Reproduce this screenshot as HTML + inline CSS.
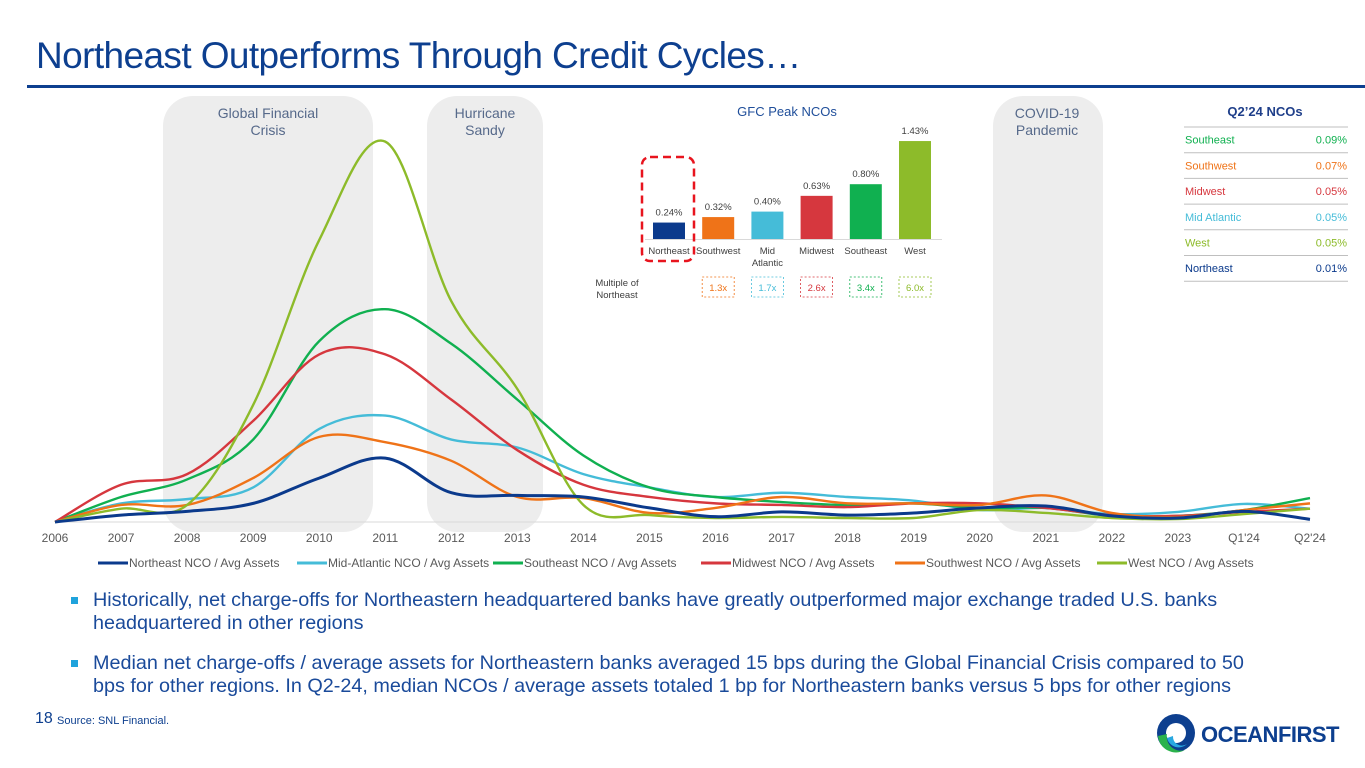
<!DOCTYPE html>
<html><head><meta charset="utf-8">
<style>
body{margin:0;width:1365px;height:768px;background:#fff;overflow:hidden;position:relative;font-family:"Liberation Sans",sans-serif}
.abs{position:absolute}
#title{left:36px;top:35px;font-size:37px;color:#0d3f8f;letter-spacing:-0.6px;white-space:nowrap}
#rule{left:27px;top:85px;width:1338px;height:3px;background:#0d3f8f}
.bul{left:74px;font-size:19.8px;color:#1a4a9a;line-height:23px;width:1182px}
.bul:before{content:"";position:absolute;left:-3px;top:8px;width:7px;height:7px;background:#1fa3dc}
.bul span{display:block;padding-left:19px}
</style></head><body>
<div class="abs" id="title">Northeast Outperforms Through Credit Cycles…</div>
<div class="abs" id="rule"></div>

<svg class="abs" style="left:0;top:0" width="1365" height="768">
 <g id="bands"></g>
 <g id="axis"></g>
 <g id="lines"></g>
 <g id="legend"></g>
 <g id="inset"></g>
 <g id="table"></g>
</svg>

<div class="abs bul" style="top:589px"><span>Historically, net charge-offs for Northeastern headquartered banks have greatly outperformed major exchange traded U.S. banks headquartered in other regions</span></div>
<div class="abs bul" style="top:652px"><span>Median net charge-offs / average assets for Northeastern banks averaged 15 bps during the Global Financial Crisis compared to 50 bps for other regions. In Q2-24, median NCOs / average assets totaled 1 bp for Northeastern banks versus 5 bps for other regions</span></div>
<div class="abs" style="left:35px;top:710px;font-size:16px;color:#0d3f8f">18</div>
<div class="abs" style="left:57px;top:715px;font-size:11px;color:#0d3f8f">Source: SNL Financial.</div>
<svg class="abs" style="left:1155px;top:712px" width="190" height="42">
 <circle cx="21" cy="21" r="19" fill="#0d3f8f"/>
 <circle cx="21" cy="21" r="10" fill="#fff"/>
 <path d="M3,24 A18,18 0 0 0 30,38 A14,14 0 0 1 12,22 Z" fill="#2bb24c"/>
 <path d="M12,26 A12,12 0 0 0 32,32 A9,9 0 0 1 18,24 Z" fill="#29a8e0"/>
 <text x="46" y="30" font-family="Liberation Sans" font-weight="bold" font-size="22" fill="#0d3f8f" letter-spacing="-0.5">OCEANFIRST</text>
</svg>

<script>
const categories=["2006","2007","2008","2009","2010","2011","2012","2013","2014","2015","2016","2017","2018","2019","2020","2021","2022","2023","Q1'24","Q2'24"];
const seriesNames=["Northeast NCO / Avg Assets","Mid-Atlantic NCO / Avg Assets","Southeast NCO / Avg Assets","Midwest NCO / Avg Assets","Southwest NCO / Avg Assets","West NCO / Avg Assets"];
const seriesColors=["#0b3a8c","#45bcd8","#10b050","#d6373e","#ef7318","#8dbb2a"];
const northeast=[0,0.026,0.04,0.07,0.165,0.24,0.11,0.10,0.094,0.053,0.02,0.038,0.026,0.034,0.053,0.06,0.023,0.015,0.04,0.01];
const midAtlantic=[0,0.07,0.086,0.13,0.35,0.40,0.31,0.28,0.18,0.13,0.094,0.11,0.094,0.08,0.045,0.053,0.03,0.038,0.068,0.05];
const southeast=[0,0.094,0.16,0.31,0.68,0.80,0.67,0.46,0.25,0.13,0.094,0.075,0.064,0.07,0.053,0.053,0.023,0.023,0.045,0.09];
const midwest=[0,0.14,0.18,0.38,0.63,0.63,0.46,0.27,0.14,0.094,0.07,0.064,0.056,0.07,0.07,0.053,0.026,0.023,0.038,0.05];
const southwest=[0,0.064,0.064,0.165,0.32,0.30,0.23,0.094,0.09,0.034,0.053,0.094,0.07,0.07,0.064,0.10,0.034,0.019,0.045,0.07];
const west=[0,0.05,0.064,0.44,1.06,1.43,0.83,0.50,0.064,0.026,0.015,0.019,0.015,0.015,0.045,0.034,0.015,0.011,0.03,0.05];
const allSeries=[northeast,midAtlantic,southeast,midwest,southwest,west];
const insetCats=["Northeast","Southwest","Mid|Atlantic","Midwest","Southeast","West"];
const insetVals=[0.24,0.32,0.40,0.63,0.80,1.43];
const insetColors=["#0b3a8c","#ef7318","#45bcd8","#d6373e","#10b050","#8dbb2a"];
const insetMultiples=["","1.3x","1.7x","2.6x","3.4x","6.0x"];
const tableRegions=["Southeast","Southwest","Midwest","Mid Atlantic","West","Northeast"];
const tableVals=["0.09%","0.07%","0.05%","0.05%","0.05%","0.01%"];
const tableColors=["#10b050","#ef7318","#d6373e","#45bcd8","#8dbb2a","#0b3a8c"];

const NS="http://www.w3.org/2000/svg";
function mk(tag,attrs,parent,text){const e=document.createElementNS(NS,tag);for(const k in attrs)e.setAttribute(k,attrs[k]);if(text!==undefined)e.textContent=text;parent.appendChild(e);return e;}
const x=i=>55+i*(1310-55)/(categories.length-1);
const y=v=>522-v*266;

const bands=document.getElementById('bands');
[[163,373,"Global Financial|Crisis",268],[427,543,"Hurricane|Sandy",485],[993,1103,"COVID-19|Pandemic",1047]].forEach((b,i)=>{
 const r=mk('rect',{x:b[0],y:96,width:b[1]-b[0],height:436,rx:30,fill:"#ededed"},bands);
 
 
 b[2].split('|').forEach((t,j)=>{const tx=mk('text',{x:b[3],y:118+j*17,"text-anchor":"middle","font-size":14,fill:"#56698a"},bands,t);
 
 });
});

const axis=document.getElementById('axis');
mk('line',{x1:55,x2:1310,y1:522,y2:522,stroke:"#d9d9d9"},axis);
categories.forEach((c,i)=>{const t=mk('text',{x:x(i),y:542,"text-anchor":"middle","font-size":12,fill:"#595959"},axis,c);
 
 });

function smooth(pts){let d=`M${pts[0][0]},${pts[0][1]}`;for(let i=0;i<pts.length-1;i++){const p0=pts[i-1]||pts[i],p1=pts[i],p2=pts[i+1],p3=pts[i+2]||p2;const t=0.17*2;
 const c1=[p1[0]+(p2[0]-p0[0])*t/2,p1[1]+(p2[1]-p0[1])*t/2],c2=[p2[0]-(p3[0]-p1[0])*t/2,p2[1]-(p3[1]-p1[1])*t/2];
 d+=` C${c1[0]},${c1[1]} ${c2[0]},${c2[1]} ${p2[0]},${p2[1]}`;}return d;}
const lines=document.getElementById('lines');
[1,2,3,4,5,0].forEach(s=>{const p=mk('path',{d:smooth(allSeries[s].map((v,i)=>[x(i),y(v)])),fill:"none",stroke:seriesColors[s],"stroke-width":s==0?3:2.4},lines);
 
 });

const legend=document.getElementById('legend');
const lx=[98,297,493,701,895,1097];
seriesNames.forEach((n,i)=>{const g=mk('g',{},legend);
 
 
 mk('line',{x1:lx[i],x2:lx[i]+30,y1:563,y2:563,stroke:seriesColors[i],"stroke-width":3},g);
 mk('text',{x:lx[i]+31,y:567,"font-size":12,fill:"#595959"},g,n);});

const inset=document.getElementById('inset');
mk('text',{x:787,y:116,"text-anchor":"middle","font-size":13,fill:"#1f4e9a"},inset,"GFC Peak NCOs");
mk('line',{x1:645,x2:942,y1:239.5,y2:239.5,stroke:"#d9d9d9"},inset);
const bx=i=>669+i*49.2, bs=v=>v*68.5;
insetVals.forEach((v,i)=>{const r=mk('rect',{x:bx(i)-16,y:239-bs(v),width:32,height:bs(v),fill:insetColors[i]},inset);
 
 
 mk('text',{x:bx(i),y:239-bs(v)-7,"text-anchor":"middle","font-size":9.5,fill:"#404040"},inset,v.toFixed(2)+"%");
 insetCats[i].split('|').forEach((t,j)=>mk('text',{x:bx(i),y:254+j*12,"text-anchor":"middle","font-size":9.5,fill:"#404040"},inset,t));
 if(insetMultiples[i]){mk('rect',{x:bx(i)-16,y:277,width:32,height:20,fill:"none",stroke:insetColors[i],"stroke-dasharray":"2,2","stroke-width":0.8},inset);
 mk('text',{x:bx(i),y:291,"text-anchor":"middle","font-size":9.5,fill:insetColors[i]},inset,insetMultiples[i]);}
});
mk('rect',{x:642,y:157,width:52,height:104,rx:8,fill:"none",stroke:"#e8141e","stroke-width":2.5,"stroke-dasharray":"8,5"},inset);
mk('text',{x:617,y:286,"text-anchor":"middle","font-size":9.5,fill:"#404040"},inset,"Multiple of");
mk('text',{x:617,y:298,"text-anchor":"middle","font-size":9.5,fill:"#404040"},inset,"Northeast");

const table=document.getElementById('table');
mk('text',{x:1265,y:116,"text-anchor":"middle","font-size":13,"font-weight":"bold",fill:"#1f3f8a"},table,"Q2’24 NCOs");
mk('line',{x1:1184,x2:1348,y1:127,y2:127,stroke:"#bfbfbf"},table);
tableRegions.forEach((r,i)=>{const yy=127+(i+1)*25.7;
 const t=mk('text',{x:1185,y:yy-9,"font-size":11,fill:tableColors[i]},table,r);
 
 
 mk('text',{x:1347,y:yy-9,"text-anchor":"end","font-size":11,fill:tableColors[i]},table,tableVals[i]);
 mk('line',{x1:1184,x2:1348,y1:yy,y2:yy,stroke:"#bfbfbf"},table);});
</script>
</body></html>
